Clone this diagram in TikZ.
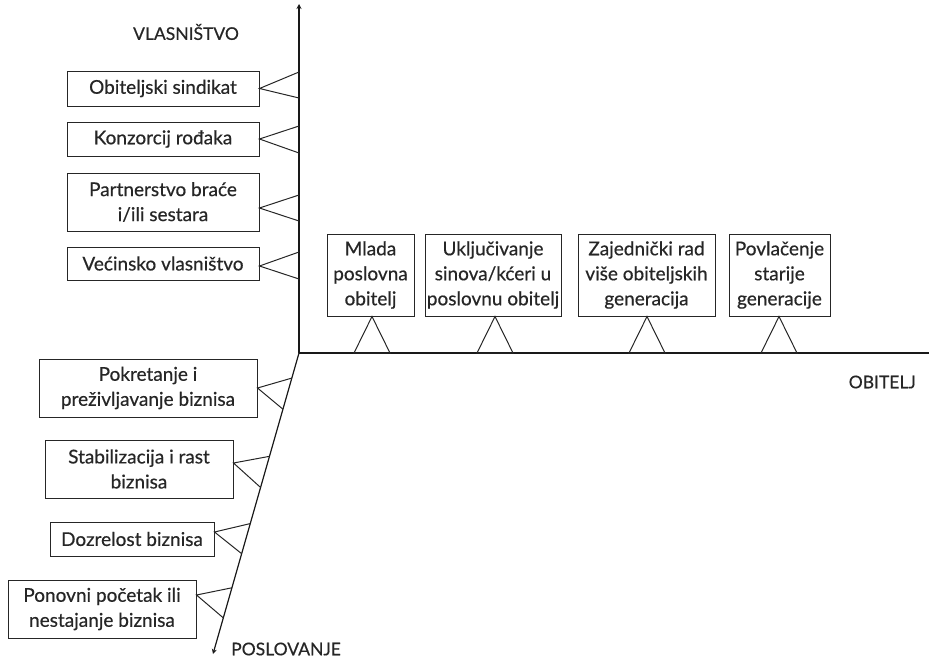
\documentclass[tikz,border=0pt]{standalone}
\usepackage{fontspec}
\setmainfont{Lato}
\newfontfamily\boxfont{Lato}[FakeBold=0.5]
\usetikzlibrary{calc,arrows.meta}
\begin{document}
\begin{tikzpicture}[x=1pt,y=-1pt,
  box/.style={draw=black!85, line width=1pt, align=center, inner sep=0pt, text=black!85,
    font=\boxfont\fontsize{19}{25}\selectfont},
  lbl/.style={text=black!85, inner sep=0pt, font=\boxfont\fontsize{17.5}{20}\selectfont},
  axis/.style={draw=black!90, line width=1.2pt},
  tri/.style={draw=black!85, line width=1pt, line join=miter}]
\useasboundingbox (0,0) rectangle (929,659);
% axes
\coordinate (O) at (299,353);
\coordinate (T) at (299,4);
\coordinate (D) at (213,654);
\coordinate (R) at (929,353);
\draw[axis,-{Stealth[length=5pt,width=5pt]}] (O) -- (T);
\draw[axis] (O) -- (R);
\draw[axis,-{Stealth[length=5pt,width=5pt]}] (O) -- (D);
% labels
\node[lbl] (vl) at (186,32) {VLASNIŠTVO};
\node[lbl,anchor=east] (ob) at (916,382) {OBITELJ};
\node[lbl,anchor=west] (po) at (231,649) {POSLOVANJE};
% ownership boxes
\node[box, minimum width=192, minimum height=35] (b1) at (163,88.5) {Obiteljski sindikat};
\node[box, minimum width=192, minimum height=34] (b2) at (163,139) {Konzorcij rođaka};
\node[box, minimum width=192, minimum height=58] (b3) at (163,202) {Partnerstvo braće\\i/ili sestara};
\node[box, minimum width=192, minimum height=33] (b4) at (163,263.5) {Većinsko vlasništvo};
\draw[tri] (299,72) -- (b1.east) -- (299,98);
\draw[tri] (299,126) -- (b2.east) -- (299,153);
\draw[tri] (299,195) -- ($(b3.east)+(0,6)$) -- (299,221);
\draw[tri] (299,252) -- ($(b4.east)+(0,2.5)$) -- (299,279);
% business boxes
\node[box, minimum width=218, minimum height=58] (b5) at (148,388) {Pokretanje i\\preživljavanje biznisa};
\node[box, minimum width=188, minimum height=58] (b6) at (139,469) {Stabilizacija i rast\\biznisa};
\node[box, minimum width=164, minimum height=34] (b7) at (132,539) {Dozrelost biznisa};
\node[box, minimum width=188, minimum height=58] (b8) at (102,609) {Ponovni početak ili\\nestajanje biznisa};
\draw[tri] ($(O)!0.0833!(D)$) -- (b5.east) -- ($(O)!0.1867!(D)$);
\draw[tri] ($(O)!0.3433!(D)$) -- ($(b6.east)+(0,-6)$) -- ($(O)!0.4467!(D)$);
\draw[tri] ($(O)!0.5667!(D)$) -- ($(b7.east)+(0,-7)$) -- ($(O)!0.6667!(D)$);
\draw[tri] ($(O)!0.78!(D)$) -- ($(b8.east)+(0,-14)$) -- ($(O)!0.88!(D)$);
% family boxes
\node[box, minimum width=87, minimum height=82] (fa) at (370.5,275) {Mlada\\poslovna\\obitelj};
\node[box, minimum width=136, minimum height=82] (fb) at (493,275) {Uključivanje\\sinova/kćeri u\\poslovnu obitelj};
\node[box, minimum width=137, minimum height=82] (fc) at (646.5,275) {Zajednički rad\\više obiteljskih\\generacija};
\node[box, minimum width=101, minimum height=82] (fd) at (779.5,275) {Povlačenje\\starije\\generacije};
\draw[tri] (354,353) -- ($(fa.south)+(1.5,0)$) -- (390,353) -- cycle;
\draw[tri] (477,353) -- ($(fb.south)+(2,0)$) -- (513,353) -- cycle;
\draw[tri] (629,353) -- ($(fc.south)+(0.5,0)$) -- (665,353) -- cycle;
\draw[tri] (761,353) -- ($(fd.south)+(-0.5,0)$) -- (797,353) -- cycle;
\end{tikzpicture}
\end{document}
